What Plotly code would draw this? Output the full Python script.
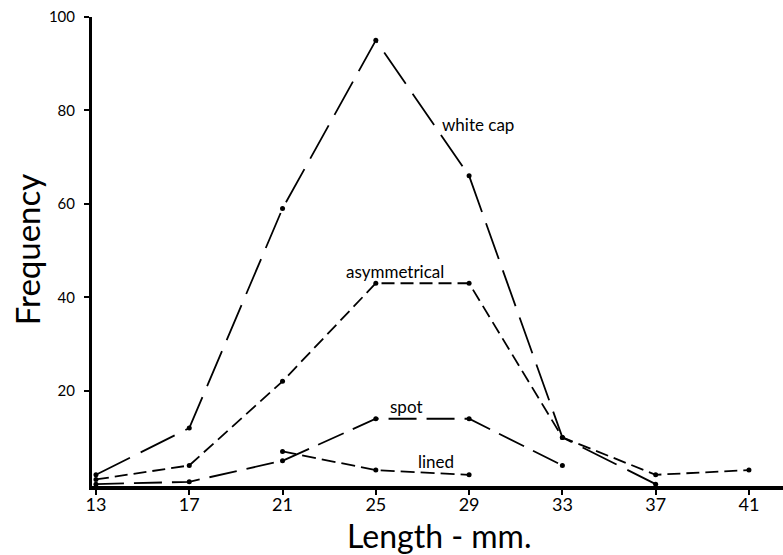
import plotly.graph_objects as go

lengths = [13, 17, 21, 25, 29, 33, 37, 41]
tick_labels = ["13", "17", "21", "25", "29", "33", "37", "41"]
freq_ticks = [20, 40, 60, 80, 100]
freq_labels = ["20", "40", "60", "80", "100"]

white_cap_x = [13, 17, 21, 25, 29, 33, 37]
white_cap_y = [2, 12, 59, 95, 66, 10, 0]

asym_x = [13, 17, 21, 25, 29, 33, 37, 41]
asym_y = [1, 4, 22, 43, 43, 10, 2, 3]

spot_x = [13, 17, 21, 25, 29, 33]
spot_y = [0, 0.5, 5, 14, 14, 4]

lined_x = [21, 25, 29]
lined_y = [7, 3, 2]

series = [
    ("white cap", white_cap_x, white_cap_y, "38px,12px"),
    ("asymmetrical", asym_x, asym_y, "13px,6px"),
    ("spot", spot_x, spot_y, "28px,10px"),
    ("lined", lined_x, lined_y, "14px,6px"),
]

labels = [
    ("white cap", 29.4, 76.9),
    ("asymmetrical", 25.82, 45.6),
    ("spot", 26.29, 16.6),
    ("lined", 27.58, 4.8),
]

FONT = "Lato"

fig = go.Figure()
for name, xs, ys, dash in series:
    fig.add_trace(go.Scatter(
        x=xs, y=ys, mode="lines+markers", name=name,
        line=dict(color="black", width=1.8, dash=dash),
        marker=dict(color="black", size=5),
        cliponaxis=False, showlegend=False,
    ))

for text, x, y in labels:
    fig.add_annotation(x=x, y=y, text=text, showarrow=False,
                       font=dict(family=FONT, size=17, color="black"))

# axis titles
fig.add_annotation(xref="paper", yref="paper", x=0.502, y=-0.1066,
                   text="Length - mm.", showarrow=False,
                   xanchor="center", yanchor="middle",
                   font=dict(family=FONT, size=32, color="black"))
fig.add_annotation(xref="paper", yref="paper", x=-0.094, y=0.505,
                   text="Frequency", showarrow=False, textangle=-90,
                   xanchor="center", yanchor="middle",
                   font=dict(family=FONT, size=33, color="black"))

fig.update_layout(
    width=783, height=555,
    margin=dict(l=92, r=0, t=17, b=69, autoexpand=False),
    paper_bgcolor="white", plot_bgcolor="white",
    font=dict(family=FONT, color="black"),
    xaxis=dict(
        range=[12.83, 42.46], tickmode="array", tickvals=lengths, ticktext=tick_labels,
        showgrid=False, zeroline=False, showline=True, linecolor="black", linewidth=4,
        ticks="outside", ticklen=5, tickwidth=2, tickcolor="black",
        tickfont=dict(size=18, family=FONT), automargin=False,
        ticklabelstandoff=-6,
    ),
    yaxis=dict(
        range=[-0.4, 100], tickmode="array", tickvals=freq_ticks, ticktext=freq_labels,
        showgrid=False, zeroline=False, showline=True, linecolor="black", linewidth=3,
        ticks="outside", ticklen=5, tickwidth=2, tickcolor="black",
        tickfont=dict(size=15, family=FONT), automargin=False,
        ticklabelstandoff=6,
    ),
)

fig.write_html(
    "out.html",
    config={"displayModeBar": False},
    post_script="document.body.style.margin='0';document.body.style.overflow='hidden';",
)
